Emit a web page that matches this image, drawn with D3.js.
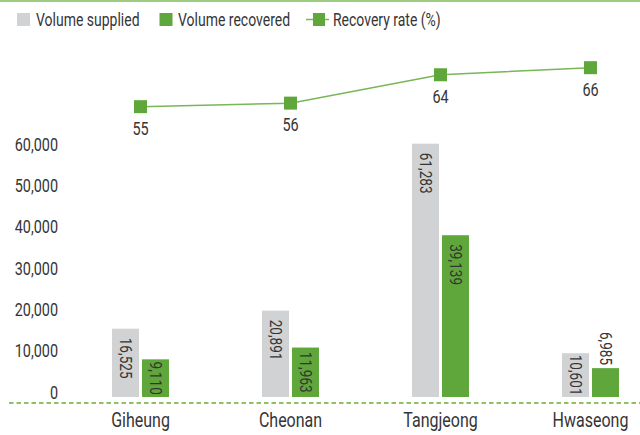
<!DOCTYPE html>
<html>
<head>
<meta charset="utf-8">
<script src="https://cdn.jsdelivr.net/npm/d3@7"></script>
<style>
  html, body { margin: 0; padding: 0; background: #fff; }
  svg { display: block; }
  text { font-family: Roboto, "Noto Sans", sans-serif; fill: #353535; }
</style>
</head>
<body>
<svg id="chart" width="640" height="435"></svg>
<script>
// Sites, supplied / recovered volumes and the recovery rate per site
const sites = ["Giheung", "Cheonan", "Tangjeong", "Hwaseong"];
const supplied = [16525, 20891, 61283, 10601];
const recovered = [9110, 11963, 39139, 6985];
const recoveryRate = [55, 56, 64, 66];
const volumeTicks = [0, 10000, 20000, 30000, 40000, 50000, 60000];
const legendLabels = ["Volume supplied", "Volume recovered", "Recovery rate (%)"];

const W = 640, H = 435;
const GRAY = "#d1d2d4", GREEN = "#5fa73a", LINE = "#78b656", RULE = "#9ccc7f";
const NARROW = 0.8; // horizontal squeeze for a condensed look

const svg = d3.select("#chart");
const fmt = d3.format(",");

// Condensed text placed at (x, y), optionally rotated
function label(parent, str, x, y, size, anchor = "start", rot = 0) {
  return parent.append("text")
    .attr("font-size", size)
    .attr("text-anchor", anchor)
    .attr("transform", `translate(${x},${y}) rotate(${rot}) scale(${NARROW},1)`)
    .text(str);
}

// Category positions (group centres)
const x = d3.scalePoint().domain(sites).range([140.5, 590.5]);
// Volume scale
const y = d3.scaleLinear().domain([0, 60000]).range([397, 149]);
// Recovery rate scale for the upper line
const yRate = d3.scaleLinear().domain([50, 70]).range([124.4, 53.5]);

const barW = 27, gap = 3;

// Top rule
svg.append("line")
  .attr("x1", 0).attr("x2", W).attr("y1", 1).attr("y2", 1)
  .attr("stroke", RULE).attr("stroke-width", 2);

// Legend
const legend = svg.append("g");
legend.append("rect").attr("x", 17).attr("y", 13).attr("width", 13).attr("height", 13).attr("fill", GRAY);
label(legend, legendLabels[0], 36, 25.5, 17.5);
legend.append("rect").attr("x", 159.5).attr("y", 13).attr("width", 13).attr("height", 13).attr("fill", GREEN);
label(legend, legendLabels[1], 178, 25.5, 17.5);
legend.append("line").attr("x1", 306).attr("x2", 329).attr("y1", 19.5).attr("y2", 19.5)
  .attr("stroke", LINE).attr("stroke-width", 1.5);
legend.append("rect").attr("x", 313).attr("y", 13).attr("width", 12).attr("height", 13).attr("fill", GREEN);
label(legend, legendLabels[2], 333, 25.5, 17.5);

// Y axis labels (no domain line, no tick marks)
const yAxis = d3.axisLeft(y).tickValues(volumeTicks).tickFormat(fmt).tickSize(0).tickPadding(0);
const gy = svg.append("g").attr("transform", "translate(58,0)").call(yAxis);
gy.select(".domain").remove();
gy.selectAll(".tick text")
  .attr("font-size", 18)
  .attr("font-family", null)
  .attr("fill", "#353535")
  .attr("x", null)
  .attr("dy", "0.35em")
  .attr("transform", `translate(0,-5) scale(${NARROW},1)`);

// Dashed baseline
svg.append("line")
  .attr("x1", 9).attr("x2", W).attr("y1", 403).attr("y2", 403)
  .attr("stroke", "#8fc266").attr("stroke-width", 2)
  .attr("stroke-dasharray", "4.5,3");

// Bars
const series = [
  { values: supplied, color: GRAY, offset: -(gap / 2 + barW) },
  { values: recovered, color: GREEN, offset: gap / 2 }
];

series.forEach(s => {
  const g = svg.append("g");
  sites.forEach((site, i) => {
    const v = s.values[i];
    const bx = x(site) + s.offset;
    const top = y(v), bottom = y(0), h = bottom - top;
    g.append("rect")
      .attr("x", bx).attr("y", top)
      .attr("width", barW).attr("height", h)
      .attr("fill", s.color);

    const cx = bx + barW / 2;
    const t = label(g, fmt(v), 0, 0, 17).attr("dominant-baseline", "central");
    const len = t.node().getComputedTextLength() * NARROW;
    if (h >= len + 2) {
      // inside the bar, reading downwards from near its top
      const start = top + Math.min(9, (h - len) / 2);
      t.attr("transform", `translate(${cx},${start}) rotate(90) scale(${NARROW},1)`);
    } else {
      // above a short bar
      t.attr("text-anchor", "end")
        .attr("transform", `translate(${cx},${top - 3}) rotate(90) scale(${NARROW},1)`);
    }
  });
});

// Category labels
const gx = svg.append("g");
sites.forEach(s => label(gx, s, x(s), 427, 20, "middle"));

// Recovery rate line
const pts = sites.map((s, i) => [x(s), yRate(recoveryRate[i])]);
svg.append("path")
  .attr("d", d3.line()(pts))
  .attr("fill", "none")
  .attr("stroke", LINE).attr("stroke-width", 1.5);

svg.append("g").selectAll("rect").data(pts).join("rect")
  .attr("x", d => d[0] - 6.5).attr("y", d => d[1] - 6.5)
  .attr("width", 13).attr("height", 13)
  .attr("fill", GREEN);

const gr = svg.append("g");
recoveryRate.forEach((r, i) => label(gr, r, pts[i][0], pts[i][1] + 28, 18, "middle"));
</script>
</body>
</html>
